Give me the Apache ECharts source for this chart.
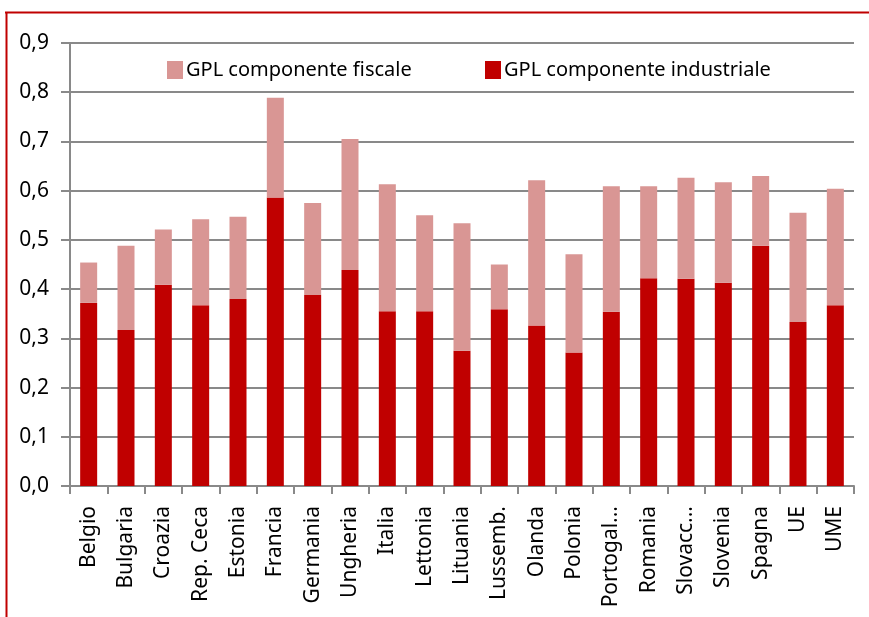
<!DOCTYPE html>
<html>
<head>
    <meta charset="utf-8">
    <title>GPL</title>
    <script src="https://cdn.jsdelivr.net/npm/echarts@6/dist/echarts.min.js"></script>
    <style>
        html, body { margin: 0; padding: 0; background: #fff; }
    </style>
</head>
<body>
    <div id="main" style="width: 869px;height:617px;"></div>
    <script type="text/javascript">
        // dati
        var categorie = ['Belgio', 'Bulgaria', 'Croazia', 'Rep. Ceca', 'Estonia', 'Francia', 'Germania',
            'Ungheria', 'Italia', 'Lettonia', 'Lituania', 'Lussemb.', 'Olanda', 'Polonia',
            'Portogal...', 'Romania', 'Slovacc...', 'Slovenia', 'Spagna', 'UE', 'UME'];
        var industriale = [0.372, 0.317, 0.409, 0.367, 0.380, 0.586, 0.388, 0.439, 0.355, 0.355, 0.275,
            0.359, 0.326, 0.271, 0.354, 0.422, 0.421, 0.413, 0.488, 0.333, 0.367];
        var fiscale = [0.082, 0.171, 0.112, 0.175, 0.167, 0.203, 0.187, 0.266, 0.258, 0.195, 0.259,
            0.091, 0.295, 0.200, 0.255, 0.187, 0.205, 0.204, 0.142, 0.222, 0.237];
        var yEtichette = ['0,0', '0,1', '0,2', '0,3', '0,4', '0,5', '0,6', '0,7', '0,8', '0,9'];

        var rosso = '#C00000';
        var rosa = '#D99694';
        var grigio = '#898989';
        var font = 'Noto Sans';

        var myChart = echarts.init(document.getElementById('main'));

        var option = {
            animation: false,
            grid: {
                left: 70,
                right: 15,
                top: 43,
                bottom: 131,
                outerBoundsMode: 'none'
            },
            legend: [
                {
                    data: ['GPL componente fiscale'],
                    left: 162,
                    top: 55,
                    icon: 'rect',
                    itemWidth: 16,
                    itemHeight: 18,
                    textStyle: { fontFamily: font, fontSize: 20, color: '#000', padding: [0, 0, 0, -2] }
                },
                {
                    data: ['GPL componente industriale'],
                    left: 480,
                    top: 55,
                    icon: 'rect',
                    itemWidth: 16,
                    itemHeight: 18,
                    textStyle: { fontFamily: font, fontSize: 20, color: '#000', padding: [0, 0, 0, -2] }
                }
            ],
            xAxis: {
                type: 'category',
                data: categorie,
                axisLine: { lineStyle: { color: grigio, width: 2 } },
                axisTick: { show: true, length: 8, lineStyle: { color: grigio, width: 2 } },
                axisLabel: {
                    rotate: 90,
                    interval: 0,
                    margin: 20,
                    fontFamily: font,
                    fontSize: 21,
                    color: '#000'
                }
            },
            yAxis: {
                type: 'value',
                min: 0,
                max: 0.9,
                interval: 0.1,
                axisLine: { show: true, lineStyle: { color: grigio, width: 2 } },
                axisTick: { show: true, length: 9, lineStyle: { color: grigio, width: 2 } },
                splitLine: { lineStyle: { color: grigio, width: 2 } },
                axisLabel: {
                    margin: 21,
                    fontFamily: font,
                    fontSize: 21,
                    color: '#000',
                    formatter: function (v) {
                        return yEtichette[Math.round(v * 10)];
                    }
                }
            },
            series: [
                {
                    name: 'GPL componente industriale',
                    type: 'bar',
                    stack: 'gpl',
                    barWidth: 17,
                    itemStyle: { color: rosso },
                    data: industriale
                },
                {
                    name: 'GPL componente fiscale',
                    type: 'bar',
                    stack: 'gpl',
                    barWidth: 17,
                    itemStyle: { color: rosa },
                    data: fiscale
                }
            ],
            // cornice rossa (sopra e a sinistra)
            graphic: [
                {
                    type: 'line',
                    shape: { x1: 5, y1: 12.5, x2: 869, y2: 12.5 },
                    style: { stroke: rosso, lineWidth: 2 }
                },
                {
                    type: 'line',
                    shape: { x1: 6.5, y1: 12, x2: 6.5, y2: 617 },
                    style: { stroke: rosso, lineWidth: 2 }
                }
            ]
        };

        myChart.setOption(option);
    </script>
</body>
</html>
